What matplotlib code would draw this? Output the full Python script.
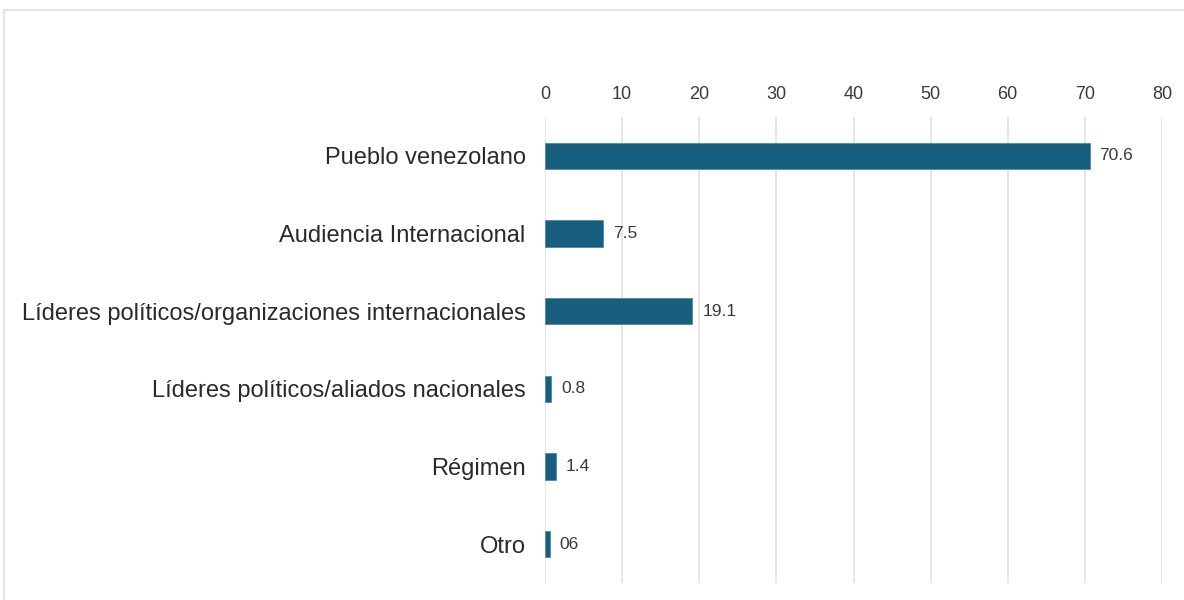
import matplotlib.pyplot as plt
from matplotlib.patches import Rectangle

categories = ['Pueblo venezolano', 'Audiencia Internacional',
              'Líderes políticos/organizaciones internacionales',
              'Líderes políticos/aliados nacionales', 'Régimen', 'Otro']
values = [70.6, 7.5, 19.1, 0.8, 1.4, 0.6]
value_labels = ['70.6', '7.5', '19.1', '0.8', '1.4', '06']
ticks = [0, 10, 20, 30, 40, 50, 60, 70, 80]

plt.rcParams['font.family'] = ['Liberation Sans', 'DejaVu Sans']

fig = plt.figure(figsize=(11.84, 6), dpi=100)
# light frame around the chart
fig.patches.append(Rectangle((4 / 1184, -0.1), 1.1, 1 - 10 / 600 + 0.1,
                             transform=fig.transFigure, fill=False,
                             edgecolor='#e4e4e4', linewidth=1.5))

ax = fig.add_axes([545 / 1184, 17 / 600, 617 / 1184, 466 / 600])
y = range(len(categories))
ax.barh(y, values, height=0.34, color='#175e7f', edgecolor='#4f8aa8',
        linewidth=0.6, zorder=3)

for yi, v, lab in zip(y, values, value_labels):
    ax.text(v + 1.3, yi, lab, va='center', ha='left', fontsize=12.5,
            color='#3a3a3a')

ax.set_xlim(0, 80)
ax.set_ylim(5.5, -0.5)
ax.set_xticks(ticks)
ax.xaxis.tick_top()
ax.tick_params(axis='x', length=0, pad=10, labelsize=13, labelcolor='#3a3a3a')
ax.set_yticks(list(y))
ax.set_yticklabels(categories)
ax.tick_params(axis='y', length=0, pad=14, labelsize=17, labelcolor='#2a2a2a')
ax.grid(axis='x', color='#e2e2e2', linewidth=1.2, zorder=0)
for s in ax.spines.values():
    s.set_visible(False)

fig.savefig('out.png', dpi=100)
